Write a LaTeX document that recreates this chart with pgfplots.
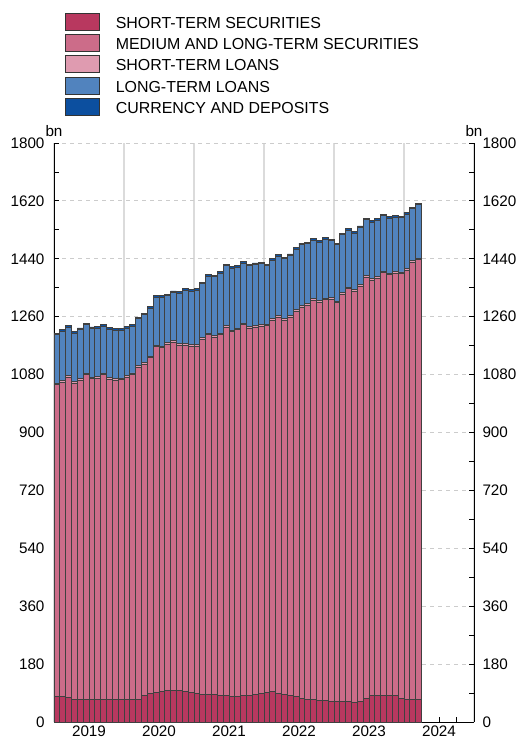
\documentclass[border=0pt]{standalone}
\usepackage{fontspec}
\setmainfont{Liberation Sans}
\usepackage{pgfplots}
\usepackage{pgfplotstable}
\pgfplotsset{compat=1.18}
\definecolor{cSTS}{HTML}{B8385F}
\definecolor{cMLTS}{HTML}{CC6C89}
\definecolor{cSTL}{HTML}{DF9BB0}
\definecolor{cLTL}{HTML}{5183BE}
\definecolor{cCD}{HTML}{0C4F9F}
\pgfplotstableread{
x sts mlts stl ltl cd
0.5 79 969 5 151 5
1.5 79 977 5 154 5
2.5 75 997 5 150 5
3.5 71 982 5 151 5
4.5 71 992 5 152 5
5.5 71 1008 5 151 5
6.5 70 997 5 151 5
7.5 69 1000 5 151 5
8.5 69 1010 5 147 5
9.5 69 996 5 151 5
10.5 71 992 5 149 5
11.5 71 993 5 148 5
12.5 71 1000 5 149 5
13.5 71 1009 5 146 5
14.5 71 1032 5 146 5
15.5 81 1031 5 149 5
16.5 89 1043 5 150 5
17.5 93 1073 5 149 5
18.5 96 1067 5 152 5
19.5 99 1075 5 146 5
20.5 99 1081 5 150 5
21.5 97 1074 5 157 5
22.5 94 1077 5 166 5
23.5 91 1077 5 167 5
24.5 89 1080 5 168 5
25.5 87 1102 5 168 5
26.5 87 1117 5 177 5
27.5 86 1111 5 182 5
28.5 83 1121 5 186 5
29.5 81 1146 5 186 5
30.5 80 1133 5 193 5
31.5 80 1139 5 190 5
32.5 81 1154 5 187 5
33.5 83 1142 5 188 5
34.5 85 1143 5 189 5
35.5 88 1143 5 188 5
36.5 91 1141 5 181 5
37.5 94 1154 5 183 5
38.5 88 1170 5 185 5
39.5 86 1162 5 187 5
40.5 81 1178 5 186 5
41.5 79 1198 5 188 5
42.5 72 1218 5 189 5
43.5 70 1225 5 187 5
44.5 70 1241 5 182 5
45.5 68 1236 5 183 5
46.5 67 1246 5 182 5
47.5 65 1250 5 176 5
48.5 64 1239 5 176 5
49.5 64 1266 5 180 5
50.5 64 1283 5 176 5
51.5 60 1279 5 176 5
52.5 64 1290 5 178 5
53.5 73 1310 5 173 5
54.5 81 1292 5 175 5
55.5 81 1299 5 174 5
56.5 81 1315 5 173 5
57.5 81 1309 5 171 5
58.5 81 1314 5 170 5
59.5 72 1322 5 169 5
60.5 70 1334 5 170 5
61.5 69 1360 5 161 5
62.5 71 1366 5 166 5
}\datatable
\pgfplotsset{
  sqlegend/.style={legend image code/.code={\draw[##1,draw=black!80,line width=0.8bp] (0bp,-6.75bp) rectangle (34bp,10.25bp);}},
}
\newcommand{\tfont}{\fontsize{15.3}{18}\selectfont}
\begin{document}
\begin{tikzpicture}
\useasboundingbox (0,0) rectangle (521bp,740bp);
\begin{axis}[
  at={(54bp,18bp)}, anchor=south west,
  scale only axis, width=420bp, height=579bp,
  xmin=0, xmax=72, ymin=0, ymax=1800,
  clip=false,
  axis x line*=bottom, axis y line*=left,
  axis line style={black, line width=0.9bp},
  ybar stacked, bar width=1,
  xtick={0,12,...,72}, x tick label as interval,
  xticklabels={2019,2020,2021,2022,2023,2024},
  minor x tick num=3,
  ytick={0,180,...,1800}, minor y tick num=1,
  tick align=inside, major tick length=5bp, minor tick length=5bp,
  tick style={black, line width=0.8bp},
  /pgf/number format/assume math mode=true,
  /pgf/number format/1000 sep={},
  tick label style={font=\tfont},
  yticklabel style={xshift=-6bp},
  xmajorgrids, ymajorgrids,
  x grid style={gray!28, line width=1.2bp},
  y grid style={gray!40, dashed, dash pattern=on 4bp off 4bp, line width=0.8bp},
  legend style={draw=none, fill=none, at={(axis description cs:0.0262,1.2251)}, anchor=north west,
    inner sep=0pt, outer sep=0pt, row sep=3.5bp, font=\fontsize{16}{18}\selectfont,
    nodes={inner sep=0pt},
    /tikz/every odd column/.append style={column sep=16bp}},
  legend cell align=left,
  every axis plot/.append style={draw=black!75, line width=0.9bp},
]
\addplot[fill=cSTS, sqlegend] table[x=x, y=sts] {\datatable};
\addlegendentry{SHORT-TERM SECURITIES}
\addplot[fill=cMLTS, sqlegend] table[x=x, y=mlts] {\datatable};
\addlegendentry{MEDIUM AND LONG-TERM SECURITIES}
\addplot[fill=cSTL, sqlegend] table[x=x, y=stl] {\datatable};
\addlegendentry{SHORT-TERM LOANS}
\addplot[fill=cLTL, sqlegend] table[x=x, y=ltl] {\datatable};
\addlegendentry{LONG-TERM LOANS}
\addplot[fill=cCD, sqlegend] table[x=x, y=cd] {\datatable};
\addlegendentry{CURRENCY AND DEPOSITS}
\node[anchor=base, font=\tfont, inner sep=0pt] at ([yshift=6bp]rel axis cs:0,1) {bn};
\node[anchor=base, font=\tfont, inner sep=0pt] at ([yshift=6bp]rel axis cs:1,1) {bn};
\end{axis}
\begin{axis}[
  at={(54bp,18bp)}, anchor=south west,
  scale only axis, width=420bp, height=579bp,
  xmin=0, xmax=72, ymin=0, ymax=1800,
  axis x line=none, axis y line*=right,
  axis line style={black, line width=0.9bp},
  ytick={0,180,...,1800}, minor y tick num=1,
  tick align=inside, major tick length=5bp, minor tick length=5bp,
  tick style={black, line width=0.8bp},
  /pgf/number format/assume math mode=true,
  /pgf/number format/1000 sep={},
  tick label style={font=\tfont},
  yticklabel style={xshift=5bp},
]
\end{axis}
\end{tikzpicture}
\end{document}
